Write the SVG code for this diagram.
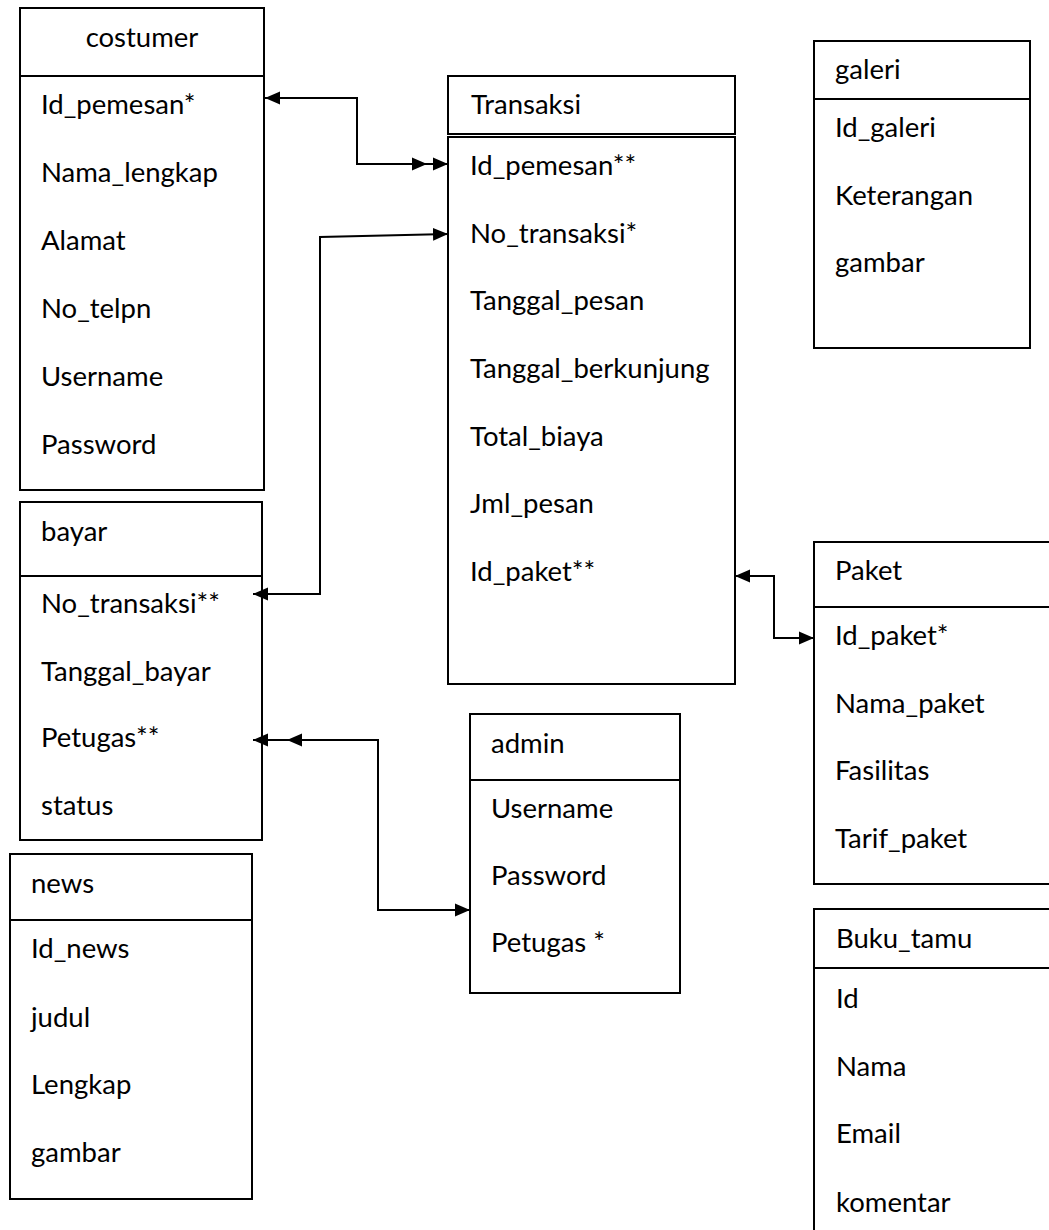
<svg xmlns="http://www.w3.org/2000/svg" width="1049" height="1230" viewBox="0 0 1049 1230">
<style>
.box{fill:#fff;stroke:#000;stroke-width:2}
.div{stroke:#000;stroke-width:2}
.t{font-family:Lato,"Liberation Sans",sans-serif;font-size:27.5px;fill:#000}
.c{fill:none;stroke:#000;stroke-width:2}
</style>
<defs>
<marker id="arr" markerUnits="userSpaceOnUse" markerWidth="16" markerHeight="14" refX="15" refY="7" orient="auto-start-reverse" viewBox="0 0 16 14">
<path d="M0,0.5 L15,7 L0,13.5 z" fill="#000"/>
</marker>
</defs>
<rect width="1049" height="1230" fill="#fff"/>

<g id="costumer">
<rect class="box" x="20" y="8" width="244" height="482"/>
<line class="div" x1="20" y1="76" x2="264" y2="76"/>
<text class="t" x="142" y="47" text-anchor="middle">costumer</text>
<text class="t" x="41" y="114">Id_pemesan*</text>
<text class="t" x="41" y="182">Nama_lengkap</text>
<text class="t" x="41" y="250">Alamat</text>
<text class="t" x="41" y="318">No_telpn</text>
<text class="t" x="41" y="386">Username</text>
<text class="t" x="41" y="454">Password</text>
</g>

<g id="transaksi">
<rect class="box" x="448" y="76" width="287" height="58"/>
<rect class="box" x="448" y="137" width="287" height="547"/>
<text class="t" x="471" y="114">Transaksi</text>
<text class="t" x="470" y="175">Id_pemesan**</text>
<text class="t" x="470" y="243">No_transaksi*</text>
<text class="t" x="470" y="310">Tanggal_pesan</text>
<text class="t" x="470" y="378">Tanggal_berkunjung</text>
<text class="t" x="470" y="446">Total_biaya</text>
<text class="t" x="470" y="513">Jml_pesan</text>
<text class="t" x="470" y="581">Id_paket**</text>
</g>

<g id="galeri">
<rect class="box" x="814" y="41" width="216" height="307"/>
<line class="div" x1="814" y1="99" x2="1030" y2="99"/>
<text class="t" x="835" y="79">galeri</text>
<text class="t" x="835" y="137">Id_galeri</text>
<text class="t" x="835" y="205">Keterangan</text>
<text class="t" x="835" y="272">gambar</text>
</g>

<g id="bayar">
<rect class="box" x="20" y="502" width="242" height="338"/>
<line class="div" x1="20" y1="576" x2="262" y2="576"/>
<text class="t" x="41" y="541">bayar</text>
<text class="t" x="41" y="613">No_transaksi**</text>
<text class="t" x="41" y="681">Tanggal_bayar</text>
<text class="t" x="41" y="747">Petugas**</text>
<text class="t" x="41" y="815">status</text>
</g>

<g id="news">
<rect class="box" x="10" y="854" width="242" height="345"/>
<line class="div" x1="10" y1="920" x2="252" y2="920"/>
<text class="t" x="31" y="893">news</text>
<text class="t" x="31" y="958">Id_news</text>
<text class="t" x="31" y="1027">judul</text>
<text class="t" x="31" y="1094">Lengkap</text>
<text class="t" x="31" y="1162">gambar</text>
</g>

<g id="admin">
<rect class="box" x="470" y="714" width="210" height="279"/>
<line class="div" x1="470" y1="780" x2="680" y2="780"/>
<text class="t" x="491" y="753">admin</text>
<text class="t" x="491" y="818">Username</text>
<text class="t" x="491" y="885">Password</text>
<text class="t" x="491" y="952">Petugas *</text>
</g>

<g id="paket">
<rect class="box" x="814" y="542" width="250" height="342"/>
<line class="div" x1="814" y1="607" x2="1064" y2="607"/>
<text class="t" x="835" y="580">Paket</text>
<text class="t" x="835" y="645">Id_paket*</text>
<text class="t" x="835" y="713">Nama_paket</text>
<text class="t" x="835" y="780">Fasilitas</text>
<text class="t" x="835" y="848">Tarif_paket</text>
</g>

<g id="buku_tamu">
<rect class="box" x="814" y="909" width="250" height="340"/>
<line class="div" x1="814" y1="968" x2="1064" y2="968"/>
<text class="t" x="836" y="948">Buku_tamu</text>
<text class="t" x="836" y="1008">Id</text>
<text class="t" x="836" y="1076">Nama</text>
<text class="t" x="836" y="1143">Email</text>
<text class="t" x="836" y="1212">komentar</text>
</g>

<g id="connectors">
<path class="c" d="M265,98 H357 V164 H427" marker-start="url(#arr)" marker-end="url(#arr)"/>
<path class="c" d="M427,164 H448" marker-end="url(#arr)"/>
<path class="c" d="M448,234 L320,237 V594 H253" marker-start="url(#arr)" marker-end="url(#arr)"/>
<path class="c" d="M470,910 H378 V740 H287" marker-start="url(#arr)" marker-end="url(#arr)"/>
<path class="c" d="M287,740 H253" marker-end="url(#arr)"/>
<path class="c" d="M735,576 H774 V638 H814" marker-start="url(#arr)" marker-end="url(#arr)"/>
</g>
</svg>
